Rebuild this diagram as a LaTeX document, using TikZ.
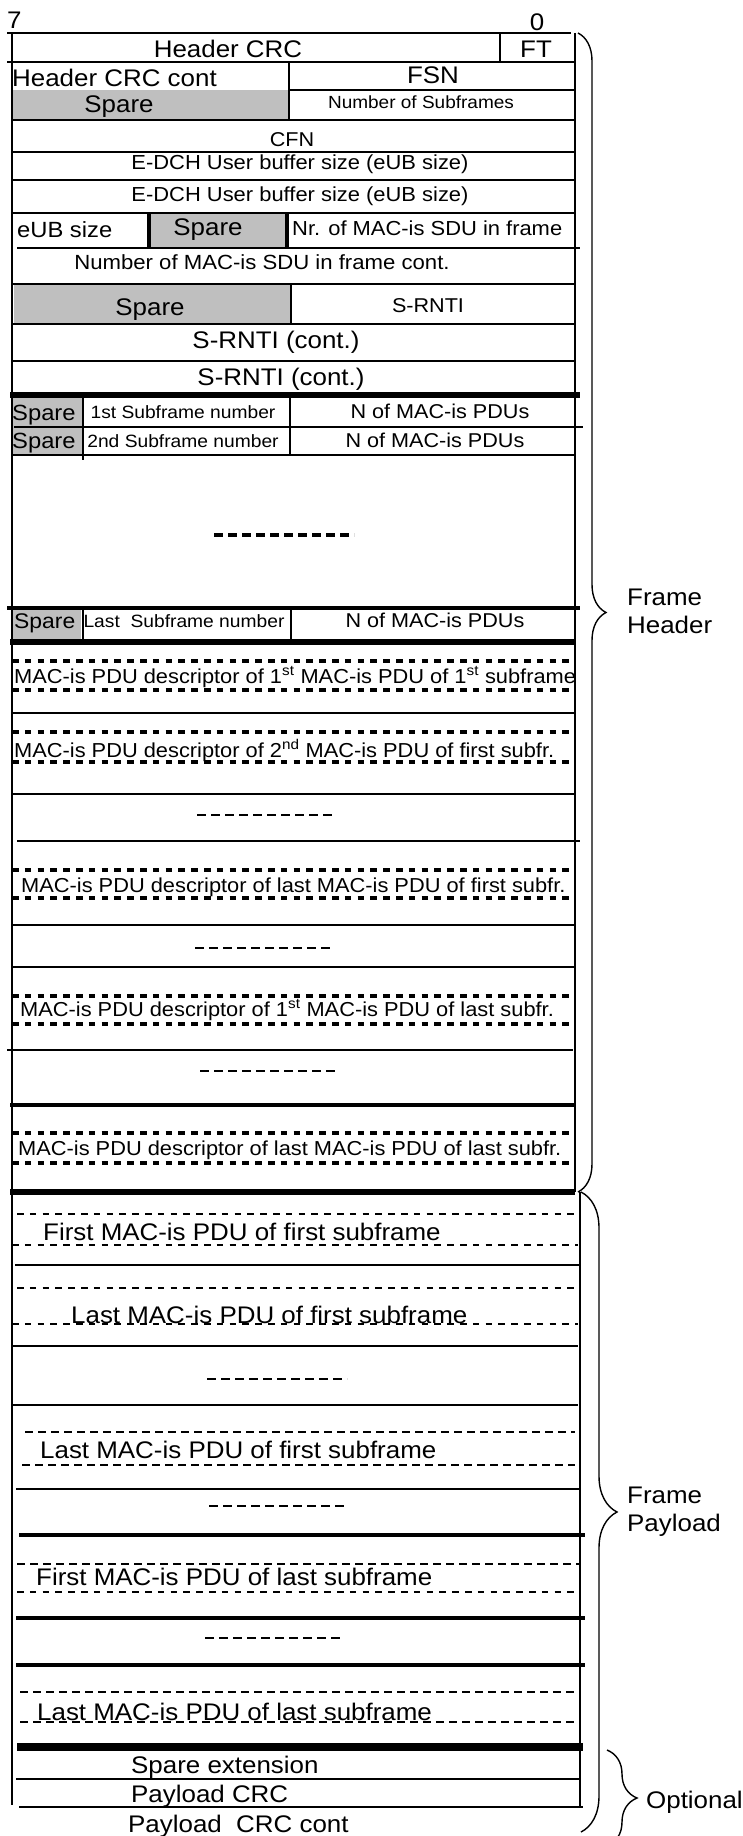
\documentclass[tikz,border=0pt]{standalone}
\usepackage{fontspec}
\setmainfont{Liberation Sans}[FakeStretch=1.08]
\usetikzlibrary{decorations.pathreplacing}
\definecolor{sparegray}{rgb}{0.75,0.75,0.75}
\newcommand{\Fs}[1]{\fontsize{#1}{#1}\selectfont}
\tikzset{
  rowline/.style={line width=2.8pt},
  thinrow/.style={line width=1.8pt},
  heavyrow/.style={line width=6.5pt},
  dotrow/.style={line width=3.4pt,dash pattern=on 6.5pt off 6.3pt},
  dashrow/.style={line width=1.6pt,dash pattern=on 8pt off 5pt},
  gapdash/.style={line width=2.6pt,dash pattern=on 9pt off 5pt},
  lbl/.style={inner sep=0pt,anchor=base,font=\Fs{24}},
  lblw/.style={inner sep=0pt,anchor=base west,font=\Fs{24}},
  bracket/.style={decorate,decoration={brace,amplitude=#1},line width=1.4pt},
}

\begin{document}
\begin{tikzpicture}[x=1pt,y=-1pt]
\useasboundingbox (0,0) rectangle (742,1836);
% spare fields
\fill[sparegray] (12,90) rectangle (289,120);
\fill[sparegray] (151,213) rectangle (287,248);
\fill[sparegray] (14,284) rectangle (291,324);
\fill[sparegray] (12,395) rectangle (83,427);
\fill[sparegray] (12,427) rectangle (83,455);
\fill[sparegray] (12,608) rectangle (81,642);
% frame header rows
\draw[thinrow] (7,33) -- (571,33);
\draw[rowline] (7,62) -- (575,62);
\draw[thinrow] (289,90) -- (575,90);
\draw[rowline] (12,120) -- (575,120);
\draw[rowline] (12,152) -- (575,152);
\draw[rowline] (12,180) -- (575,180);
\draw[thinrow] (12,213) -- (575,213);
\draw[rowline] (17,248) -- (580,248);
\draw[rowline] (12,284) -- (575,284);
\draw[thinrow] (12,324) -- (575,324);
\draw[rowline] (12,361) -- (575,361);
\draw[heavyrow] (10,395) -- (580,395);
\draw[thinrow] (14,427) -- (583,427);
\draw[thinrow] (12,455) -- (575,455);
\draw[gapdash,line width=3.2pt] (214,535) -- (354,535);
\draw[rowline,line width=4pt] (7,608) -- (580,608);
\draw[heavyrow] (10,642) -- (575,642);
\draw[dotrow] (12,661) -- (575,661);
\draw[dotrow] (12,690) -- (575,690);
\draw[rowline] (12,713) -- (575,713);
\draw[dotrow] (12,732) -- (575,732);
\draw[dotrow] (12,762) -- (575,762);
\draw[rowline] (12,794) -- (575,794);
\draw[gapdash] (197,815) -- (335,815);
\draw[rowline] (17,841) -- (580,841);
\draw[dotrow] (12,870) -- (575,870);
\draw[dotrow] (12,898) -- (575,898);
\draw[rowline] (12,925) -- (575,925);
\draw[gapdash,line width=2pt] (195,948) -- (330,948);
\draw[rowline] (12,967) -- (575,967);
\draw[dotrow] (12,996) -- (575,996);
\draw[dotrow] (12,1024) -- (575,1024);
\draw[thinrow] (7,1050) -- (573,1050);
\draw[gapdash,line width=2pt] (200,1071) -- (339,1071);
\draw[rowline,line width=3.5pt] (10,1105) -- (575,1105);
\draw[dotrow] (12,1133) -- (575,1133);
\draw[dotrow] (12,1163) -- (575,1163);
\draw[heavyrow] (10,1192) -- (575,1192);
% frame payload rows
\draw[dotrow,line width=2.8pt] (17,1214) -- (578,1214);
\draw[dotrow,line width=2.8pt] (12,1245) -- (578,1245);
\draw[rowline] (15,1265) -- (580,1265);
\draw[dotrow,line width=2.8pt] (17,1288) -- (580,1288);
\draw[dotrow,line width=2.8pt] (12,1324) -- (578,1324);
\draw[rowline] (12,1346) -- (578,1346);
\draw[gapdash] (207,1379) -- (347,1379);
\draw[rowline] (12,1405) -- (578,1405);
\draw[dashrow] (25,1432) -- (575,1432);
\draw[dashrow] (22,1465) -- (575,1465);
\draw[rowline] (16,1489) -- (580,1489);
\draw[gapdash] (209,1506) -- (347,1506);
\draw[rowline,line width=3.5pt] (19,1535) -- (585,1535);
\draw[dashrow] (17,1564) -- (580,1564);
\draw[dotrow,line width=2.8pt] (17,1592) -- (580,1592);
\draw[rowline,line width=3.5pt] (16,1618) -- (585,1618);
\draw[gapdash] (205,1638) -- (342,1638);
\draw[rowline,line width=3.5pt] (16,1665) -- (585,1665);
\draw[dashrow,line width=2pt] (20,1692) -- (578,1692);
\draw[dashrow,line width=2pt] (20,1722) -- (580,1722);
\draw[heavyrow,line width=8pt] (17,1747) -- (583,1747);
\draw[thinrow] (16,1779) -- (580,1779);
\draw[rowline] (19,1807) -- (583,1807);
% borders and field dividers
\draw[line width=2.5pt] (12,33) -- (12,1805);
\draw[line width=2.5pt] (575,33) -- (575,1192);
\draw[line width=2.5pt] (580,1192) -- (580,1807);
\draw[thinrow] (500,33) -- (500,62);
\draw[rowline] (289,62) -- (289,120);
\draw[line width=3.8pt] (149,213) -- (149,248);
\draw[line width=3.8pt] (287,213) -- (287,248);
\draw[thinrow] (291,284) -- (291,324);
\draw[thinrow] (83,395) -- (83,460);
\draw[thinrow] (290,395) -- (290,455);
\draw[thinrow] (83,608) -- (83,642);
\draw[rowline] (291,608) -- (291,642);
% braces
\draw[bracket=28pt] (578,33) -- (578,1192);
\draw[bracket=36pt] (581,1192) -- (581,1832);
\draw[bracket=30pt] (607,1750) -- (607,1846);
% field texts
\node[lblw] (bitA) at (7,29) {7};
\node[lbl] (bitB) at (537,31) {0};
\node[lbl] (hdrcrc) at (228,58) {Header CRC};
\node[lbl] (ft) at (536,58) {FT};
\node[lblw] (hdrcont) at (12,86) {Header CRC cont};
\node[lbl] (fsn) at (433,83) {FSN};
\node[lbl] (spareA) at (119,112) {Spare};
\node[lbl,font=\Fs{17.6}] (nsub) at (421,108) {Number of Subframes};
\node[lbl,font=\Fs{20}] (cfn) at (292,146) {CFN};
\node[lbl,font=\Fs{20.3}] (eubA) at (300,169) {E-DCH User buffer size (eUB size)};
\node[lbl,font=\Fs{20.3}] (eubB) at (300,201) {E-DCH User buffer size (eUB size)};
\node[lblw,font=\Fs{22}] (eubsz) at (17,237) {eUB size};
\node[lbl] (spareB) at (208,235) {Spare};
\node[lblw,font=\Fs{20.3}] (nrsdu) at (292,235) {Nr. of MAC-is SDU in frame};
\node[lbl,font=\Fs{20.5}] (nrcont) at (262,269) {Number of MAC-is SDU in frame cont.};
\node[lbl] (spareC) at (150,315) {Spare};
\node[lbl,font=\Fs{20}] (srnti) at (428,312) {S-RNTI};
\node[lbl] (srntiA) at (276,348) {S-RNTI (cont.)};
\node[lbl] (srntiB) at (281,385) {S-RNTI (cont.)};
\node[lblw,font=\Fs{22}] (spareD) at (12,420) {Spare};
\node[lbl,font=\Fs{17.8}] (subA) at (183,418) {1st Subframe number};
\node[lbl,font=\Fs{20}] (npduA) at (440,418) {N of MAC-is PDUs};
\node[lblw,font=\Fs{22}] (spareE) at (12,448) {Spare};
\node[lbl,font=\Fs{17.8}] (subB) at (183,447) {2nd Subframe number};
\node[lbl,font=\Fs{20}] (npduB) at (435,447) {N of MAC-is PDUs};
\node[lblw,font=\Fs{21.2}] (spareF) at (14,628) {Spare};
\node[lbl,font=\Fs{17.8}] (subL) at (184,627) {Last~ Subframe number};
\node[lbl,font=\Fs{20}] (npduL) at (435,627) {N of MAC-is PDUs};
% descriptors
\node[lblw,font=\Fs{20.2}] (descA) at (14,683) {MAC-is PDU descriptor of 1\textsuperscript{st} MAC-is PDU of 1\textsuperscript{st} subframe};
\node[lblw,font=\Fs{20.2}] (descB) at (14,757) {MAC-is PDU descriptor of 2\textsuperscript{nd} MAC-is PDU of first subfr.};
\node[lblw,font=\Fs{20.2}] (descC) at (21,892) {MAC-is PDU descriptor of last MAC-is PDU of first subfr.};
\node[lblw,font=\Fs{20.2}] (descD) at (20,1016) {MAC-is PDU descriptor of 1\textsuperscript{st} MAC-is PDU of last subfr.};
\node[lblw,font=\Fs{20.2}] (descE) at (18,1155) {MAC-is PDU descriptor of last MAC-is PDU of last subfr.};
% payload
\node[lblw] (pduA) at (43,1240) {First MAC-is PDU of first subframe};
\node[lblw] (pduB) at (71,1323) {Last MAC-is PDU of first subframe};
\node[lblw] (pduC) at (40,1458) {Last MAC-is PDU of first subframe};
\node[lblw] (pduD) at (36,1585) {First MAC-is PDU of last subframe};
\node[lblw] (pduE) at (37,1720) {Last MAC-is PDU of last subframe};
\node[lblw] (spext) at (131,1773) {Spare extension};
\node[lblw] (plcrc) at (131,1802) {Payload CRC};
\node[lblw] (plcont) at (128,1832) {Payload~ CRC cont};
% brace labels
\node[lblw] (hdrA) at (627,605) {Frame};
\node[lblw] (hdrB) at (627,633) {Header};
\node[lblw] (payA) at (627,1503) {Frame};
\node[lblw] (payB) at (627,1531) {Payload};
\node[lblw] (opt) at (646,1808) {Optional};
\end{tikzpicture}
\end{document}
